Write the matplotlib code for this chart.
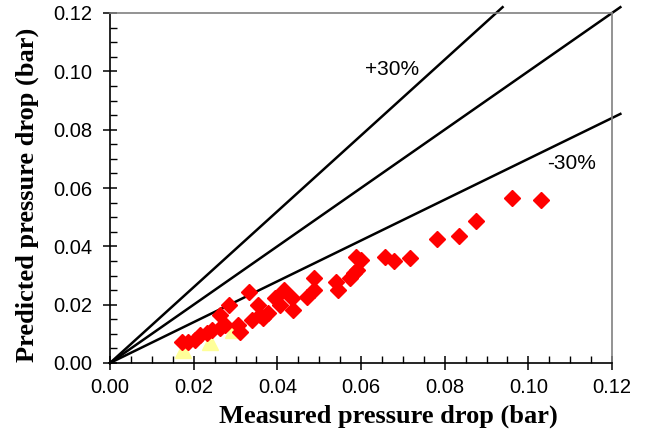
import matplotlib
matplotlib.use("Agg")
import matplotlib.pyplot as plt
import numpy as np

# Data
measured = [0.0171, 0.0187, 0.0203, 0.0215, 0.0231, 0.0243, 0.0263, 0.0263, 0.0275, 0.0285,
            0.0307, 0.0311, 0.0333, 0.0339, 0.0354, 0.0359, 0.0366, 0.0378, 0.0394, 0.0406,
            0.0417, 0.0434, 0.0438, 0.0470, 0.0488, 0.0488, 0.0540, 0.0546, 0.0574, 0.0584,
            0.0588, 0.0600, 0.0590, 0.0657, 0.0679, 0.0717, 0.0781, 0.0834, 0.0874, 0.0962,
            0.1030]
predicted = [0.0073, 0.0073, 0.0079, 0.0096, 0.0102, 0.0113, 0.0119, 0.0165, 0.0130, 0.0199,
             0.0130, 0.0107, 0.0245, 0.0147, 0.0199, 0.0165, 0.0153, 0.0170, 0.0222, 0.0199,
             0.0250, 0.0222, 0.0182, 0.0227, 0.0291, 0.0250, 0.0279, 0.0250, 0.0291, 0.0308,
             0.0365, 0.0353, 0.0319, 0.0362, 0.0351, 0.0361, 0.0424, 0.0436, 0.0488, 0.0567,
             0.0559]
measured_b = [0.0174, 0.0239, 0.0295]
predicted_b = [0.0045, 0.0073, 0.0113]

line_slopes = [1.3, 1.0, 0.7]
line_limit = 0.122
line_labels = ["+30%", "-30%"]
xticks = [0.00, 0.02, 0.04, 0.06, 0.08, 0.10, 0.12]
yticks = [0.00, 0.02, 0.04, 0.06, 0.08, 0.10, 0.12]

W, H = 651, 437
fig = plt.figure(figsize=(W/100, H/100), dpi=100)
ax = fig.add_axes([110/W, 1-363/H, (612-110)/W, (363-13)/H])

for s in line_slopes:
    xe = min(line_limit, line_limit / s)
    ax.plot([0, xe], [0, s * xe], color="black", lw=1.8, clip_on=False, zorder=2)

ax.plot(measured_b, predicted_b, linestyle="none", marker="^", markersize=11,
        color="#FFFF99", mec="#FFFF99", zorder=3)
ax.plot(measured, predicted, linestyle="none", marker="D", markersize=8.2,
        color="#FF0000", mec="#FF0000", mew=1, zorder=4)

tfont = dict(family="Liberation Sans", fontsize=15)
ax.text(0.0674, 0.1005, line_labels[0], ha="center", va="center", **tfont)
ax.text(0.1104, 0.0684, line_labels[1], ha="center", va="center", **tfont)

ax.set_xlim(0, 0.12)
ax.set_ylim(0, 0.12)
ax.set_xticks(xticks)
ax.set_yticks(yticks)
ax.set_xticklabels([f"{v:.2f}" for v in xticks], family="Liberation Sans", fontsize=14.5)
ax.set_yticklabels([f"{v:.2f}" for v in yticks], family="Liberation Sans", fontsize=14.5)
ax.xaxis.set_minor_locator(matplotlib.ticker.MultipleLocator(0.005))
ax.yaxis.set_minor_locator(matplotlib.ticker.MultipleLocator(0.005))
ax.tick_params(which="major", direction="inout", length=10, width=1.1)
ax.tick_params(axis="x", which="major", pad=6)
ax.tick_params(axis="y", which="major", pad=8)
ax.tick_params(which="minor", direction="in", length=5, width=1.0)
ax.tick_params(top=False, right=False, which="both")

for side in ["left", "bottom"]:
    ax.spines[side].set_color("black")
    ax.spines[side].set_linewidth(1.2)
for side in ["top", "right"]:
    ax.spines[side].set_color("#808080")
    ax.spines[side].set_linewidth(1.2)

lfont = dict(family="Liberation Serif", fontsize=19, fontweight="bold")
fig.text(388/W, 1-416/H, "Measured pressure drop (bar)", ha="center", va="center", **lfont)
fig.text(27/W, 1-195/H, "Predicted pressure drop (bar)", ha="center", va="center",
         rotation=90, **lfont)

fig.savefig("out.png", dpi=100)
